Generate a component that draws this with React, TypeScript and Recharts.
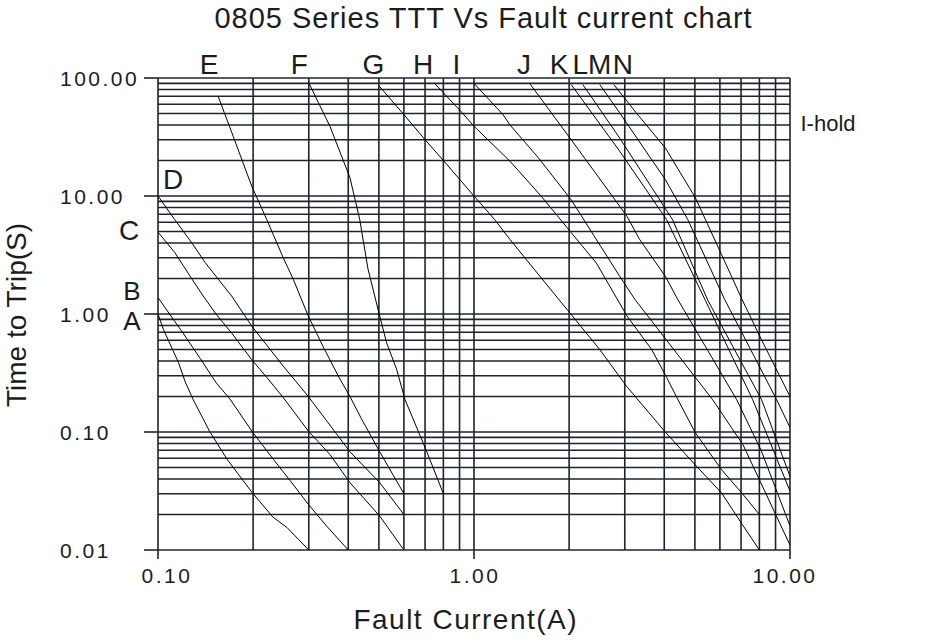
import React from 'react';
import { LineChart, Line, XAxis, YAxis, CartesianGrid } from 'recharts';

// Grid values for the log-log paper (current in A, time in s)
const currentGrid = [0.1, 0.2, 0.3, 0.4, 0.5, 0.6, 0.7, 0.8, 0.9, 1, 2, 3, 4, 5, 6, 7, 8, 9, 10];
const timeGrid = [
  0.01, 0.02, 0.03, 0.04, 0.05, 0.06, 0.07, 0.08, 0.09,
  0.1, 0.2, 0.3, 0.4, 0.5, 0.6, 0.7, 0.8, 0.9,
  1, 2, 3, 4, 5, 6, 7, 8, 9,
  10, 20, 30, 40, 50, 60, 70, 80, 90, 100,
];

// Curve name letters placed above the plot, at these currents
const topLetters = ['E', 'F', 'G', 'H', 'I', 'J', 'K', 'L', 'M', 'N'];
const topLetterAt = [0.145, 0.28, 0.48, 0.69, 0.88, 1.44, 1.86, 2.17, 2.5, 2.96];

// Trip curves: [fault current (A), time to trip (s)]
const curveA = [[0.1, 1.0], [0.104, 0.74], [0.116, 0.39], [0.122, 0.265], [0.129, 0.19], [0.146, 0.1], [0.166, 0.058], [0.198, 0.031], [0.231, 0.019], [0.256, 0.0155], [0.3, 0.01]];
const curveB = [[0.1, 1.38], [0.109, 0.99], [0.12, 0.69], [0.136, 0.42], [0.153, 0.26], [0.169, 0.19], [0.198, 0.102], [0.232, 0.0585], [0.262, 0.0387], [0.299, 0.0244], [0.342, 0.0159], [0.4, 0.01]];
const curveC = [[0.1, 4.94], [0.113, 3.32], [0.128, 1.98], [0.139, 1.42], [0.153, 0.99], [0.171, 0.69], [0.198, 0.41], [0.221, 0.29], [0.249, 0.196], [0.299, 0.102], [0.35, 0.0645], [0.405, 0.0372], [0.503, 0.0194], [0.6, 0.01]];
const curveD = [[0.1, 10], [0.113, 6.3], [0.128, 4.0], [0.141, 2.73], [0.171, 1.42], [0.198, 0.79], [0.249, 0.362], [0.299, 0.2], [0.405, 0.068], [0.503, 0.0372], [0.6, 0.02]];
const curveE = [[0.155, 70], [0.173, 32], [0.198, 12.1], [0.221, 6.3], [0.249, 3.0], [0.268, 1.97], [0.299, 0.96], [0.333, 0.53], [0.372, 0.298], [0.405, 0.2], [0.44, 0.13], [0.503, 0.068], [0.6, 0.03]];
const curveF = [[0.3, 91], [0.35, 39], [0.405, 14.3], [0.435, 6.3], [0.462, 2.4], [0.503, 0.96], [0.529, 0.57], [0.569, 0.34], [0.605, 0.188], [0.709, 0.068], [0.8, 0.03]];
const curveG = [[0.5, 86], [0.6, 49], [0.7, 30], [0.8, 20], [1, 10], [1.163, 6.3], [1.3, 4.28], [1.63, 2.03], [2.03, 0.99], [2.5, 0.5], [3.04, 0.244], [4.03, 0.1], [5.02, 0.0524], [6.07, 0.0305], [7.07, 0.0164], [8, 0.01]];
const curveH = [[0.75, 90], [0.91, 52], [1, 39], [1.3, 19.7], [1.63, 10], [2.03, 4.9], [2.44, 2.7], [3.05, 0.96], [3.65, 0.5], [4.07, 0.29], [4.41, 0.19], [5, 0.1], [6.07, 0.048], [7.07, 0.03], [8, 0.02]];
const curveI = [[1, 90], [1.235, 49], [1.3, 40], [1.6, 21], [2.03, 9.3], [2.89, 2.09], [3.23, 1.33], [5.69, 0.188], [7.1, 0.078], [10, 0.011]];
const curveJ = [[1.5, 90], [2.03, 30], [2.89, 8.2], [3.05, 6.7], [3.34, 4.3], [4.03, 2.09], [4.42, 1.32], [6.78, 0.188], [8.1, 0.07], [10, 0.016]];
const curveK = [[2.03, 88], [2.89, 24], [4.07, 6.3], [5.4, 1.3], [7.62, 0.188], [10, 0.0315]];
const curveL = [[2.21, 88], [2.89, 31], [4.25, 6.3], [5.5, 1.3], [8.13, 0.188], [10, 0.042]];
const curveM = [[2.5, 88], [2.89, 50.7], [4.03, 13.8], [4.75, 6.3], [6.21, 1.33], [9.07, 0.188], [10, 0.109]];
const curveN = [[2.77, 88], [3.26, 50.7], [4.03, 25.6], [5.02, 9.65], [6.07, 3.2], [7.05, 1.33], [8.11, 0.61], [10, 0.2]];

const curves: Record<string, number[][]> = {
  A: curveA, B: curveB, C: curveC, D: curveD, E: curveE, F: curveF, G: curveG,
  H: curveH, I: curveI, J: curveJ, K: curveK, L: curveL, M: curveM, N: curveN,
};

const toPoints = (rows: number[][]) => rows.map(([i, t]) => ({ i, t }));

const FONT = "'Liberation Sans', Arial, Helvetica, sans-serif";
const INK = '#1c1c1c';
const GRID = '#1d242e';

const isDecade = (v: number) => Math.abs(Math.log10(v) - Math.round(Math.log10(v))) < 1e-6;

const TimeTick = (props: any) => {
  const { x, y, payload } = props;
  const v = payload.value as number;
  if (!isDecade(v)) return <g />;
  const axisX = x + 21;
  return (
    <g>
      <line x1={axisX - 14} x2={axisX} y1={y} y2={y} stroke={GRID} strokeWidth={1.6} />
      <text x={axisX - 98} y={y} dy="0.36em" textAnchor="start" fontFamily={FONT} fontSize={21}
        letterSpacing={2.5} fill={INK}>
        {v.toFixed(2)}
      </text>
    </g>
  );
};

const CurrentTick = (props: any) => {
  const { x, y, payload } = props;
  const v = payload.value as number;
  if (!isDecade(v)) return <g />;
  const shift = v < 0.5 ? 9 : v > 5 ? -5 : 1;
  return (
    <g>
      <line x1={x} x2={x} y1={y - 9} y2={y} stroke={GRID} strokeWidth={1.6} />
      <text x={x + shift} y={y + 16} dy="0.36em" textAnchor="middle" fontFamily={FONT} fontSize={21}
        letterSpacing={2.5} fill={INK}>
        {v.toFixed(2)}
      </text>
    </g>
  );
};

const LetterTick = (props: any) => {
  const { x, y, index } = props;
  return (
    <text x={x} y={y} textAnchor="middle" fontFamily={FONT} fontSize={28} fill={INK}>
      {topLetters[index]}
    </text>
  );
};

const Caption = ({ x, y, size, spacing = 0, rotate = false, children }: any) => (
  <div
    style={{
      position: 'absolute',
      left: x,
      top: y,
      transform: `translate(-50%, -50%)${rotate ? ' rotate(-90deg)' : ''}`,
      fontFamily: FONT,
      fontSize: size,
      letterSpacing: spacing,
      paddingLeft: spacing,
      lineHeight: 0.78,
      whiteSpace: 'nowrap',
      color: INK,
    }}
  >
    {children}
  </div>
);

export default function App() {
  return (
    <div style={{ position: 'absolute', left: 0, top: 0, width: 942, height: 642, background: '#fff' }}>
      <LineChart width={942} height={642} margin={{ top: 0, right: 152, bottom: 0, left: 0 }}>
        <CartesianGrid stroke={GRID} strokeWidth={1.6} />
        <XAxis
          dataKey="i"
          type="number"
          scale="log"
          domain={[0.1, 10]}
          allowDataOverflow
          ticks={currentGrid}
          interval={0}
          height={92}
          tickSize={9}
          tickMargin={0}
          tickLine={false}
          axisLine={false}
          tick={<CurrentTick />}
        />
        <XAxis
          xAxisId="top"
          orientation="top"
          dataKey="i"
          type="number"
          scale="log"
          domain={[0.1, 10]}
          allowDataOverflow
          ticks={topLetterAt}
          interval={0}
          height={78}
          tickSize={0}
          tickMargin={4}
          tickLine={false}
          axisLine={false}
          tick={<LetterTick />}
        />
        <YAxis
          type="number"
          scale="log"
          domain={[0.01, 100]}
          allowDataOverflow
          ticks={timeGrid}
          interval={0}
          width={158}
          tickSize={14}
          tickMargin={7}
          tickLine={false}
          axisLine={false}
          tick={<TimeTick />}
        />
        {Object.entries(curves).map(([name, rows]) => (
          <Line
            key={name}
            name={name}
            data={toPoints(rows)}
            dataKey="t"
            type="linear"
            stroke="#000"
            strokeWidth={1}
            dot={false}
            activeDot={false}
            isAnimationActive={false}
          />
        ))}
      </LineChart>

      <Caption x={483} y={18} size={29} spacing={1}>0805 Series TTT Vs Fault current chart</Caption>
      <Caption x={465} y={620} size={28} spacing={1.5}>Fault Current(A)</Caption>
      <Caption x={17} y={315} size={28} rotate>Time to Trip(S)</Caption>

      <Caption x={132} y={291} size={26}>B</Caption>
      <Caption x={132} y={320.5} size={26}>A</Caption>
      <Caption x={129} y={231} size={28}>C</Caption>
      <Caption x={173} y={180} size={28}>D</Caption>
      <Caption x={828} y={124} size={22}>I-hold</Caption>
    </div>
  );
}
